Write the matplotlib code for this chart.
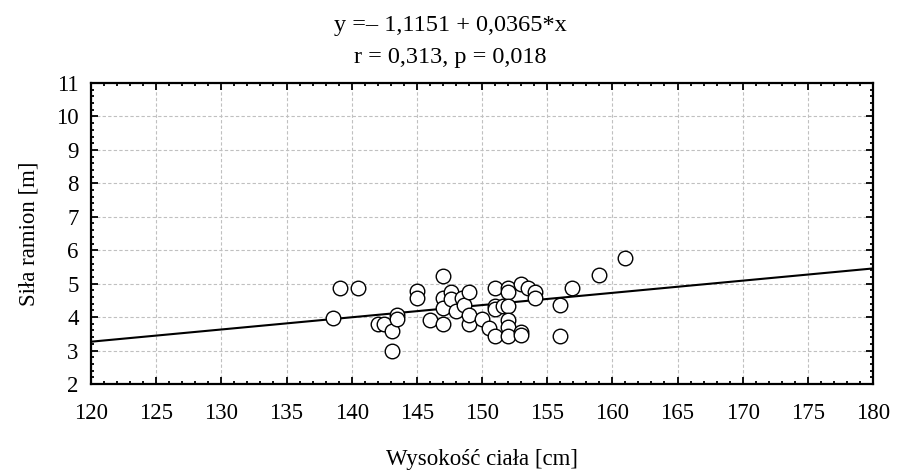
import matplotlib
matplotlib.use("Agg")
import matplotlib.pyplot as plt
import numpy as np
from matplotlib.ticker import MultipleLocator

plt.rcParams['font.family'] = ['Liberation Serif', 'DejaVu Serif']

height = [138.6, 139.1, 140.5, 142.0, 142.5, 143.1, 143.1, 143.5, 143.5, 145.0,
          145.0, 146.0, 147.0, 147.0, 147.0, 147.0, 147.6, 147.6, 148.0, 148.5,
          148.6, 149.0, 149.0, 149.0, 150.0, 150.5, 151.0, 151.0, 151.0, 151.0,
          151.6, 152.0, 152.0, 152.0, 152.0, 152.0, 152.0, 153.0, 153.0, 153.0,
          153.5, 154.1, 154.1, 156.0, 156.0, 156.9, 159.0, 161.0]
strength = [3.97, 4.87, 4.87, 3.80, 3.78, 3.57, 3.00, 4.07, 3.95, 4.77,
            4.58, 3.91, 5.22, 4.58, 4.28, 3.80, 4.76, 4.53, 4.18, 4.57,
            4.37, 4.76, 3.78, 4.05, 3.95, 3.67, 4.87, 4.33, 4.24, 3.45,
            4.32, 4.87, 4.76, 4.32, 3.92, 3.70, 3.45, 4.99, 3.56, 3.46,
            4.87, 4.75, 4.57, 4.35, 3.45, 4.87, 5.27, 5.77]
intercept = -1.1151
slope = 0.0365
x_range = [120, 180]
title_lines = ["y =\u2013 1,1151 + 0,0365*x", "r = 0,313, p = 0,018"]

W, H = 897, 471
fig = plt.figure(figsize=(W / 100, H / 100), dpi=100)
ax = fig.add_axes([91 / W, 1 - 384 / H, 782 / W, 301 / H])

xl = np.array(x_range)
ax.plot(xl, intercept + slope * xl, color='black', lw=1.5, zorder=2)
ax.scatter(height, strength, s=110, facecolors='white', edgecolors='black',
           linewidths=1.0, zorder=3)

ax.set_xlim(120, 180)
ax.set_ylim(2, 11)
ax.xaxis.set_major_locator(MultipleLocator(5))
ax.xaxis.set_minor_locator(MultipleLocator(1))
ax.yaxis.set_major_locator(MultipleLocator(1))
ax.yaxis.set_minor_locator(MultipleLocator(0.2))
ax.tick_params(which='both', direction='in', top=True, right=True,
               labelsize=16.5, width=1.3)
ax.tick_params(which='major', length=5)
ax.tick_params(axis='x', which='major', pad=14)
ax.tick_params(axis='y', which='major', pad=9)
ax.tick_params(which='minor', length=2.5)
ax.grid(True, which='major', color='#c0c0c0', linestyle=(0, (3, 2)), lw=0.8)
for sp in ax.spines.values():
    sp.set_linewidth(1.6)

ax.set_xlabel("Wysokość ciała [cm]", fontsize=16.5, labelpad=18)
ax.set_ylabel("Siła ramion [m]", fontsize=16.5, labelpad=12)
fig.text(450 / W, 1 - 25 / H, title_lines[0], fontsize=17.5, ha='center', va='center')
fig.text(450 / W, 1 - 57 / H, title_lines[1], fontsize=17.5, ha='center', va='center')

fig.savefig("out.png", dpi=100)
